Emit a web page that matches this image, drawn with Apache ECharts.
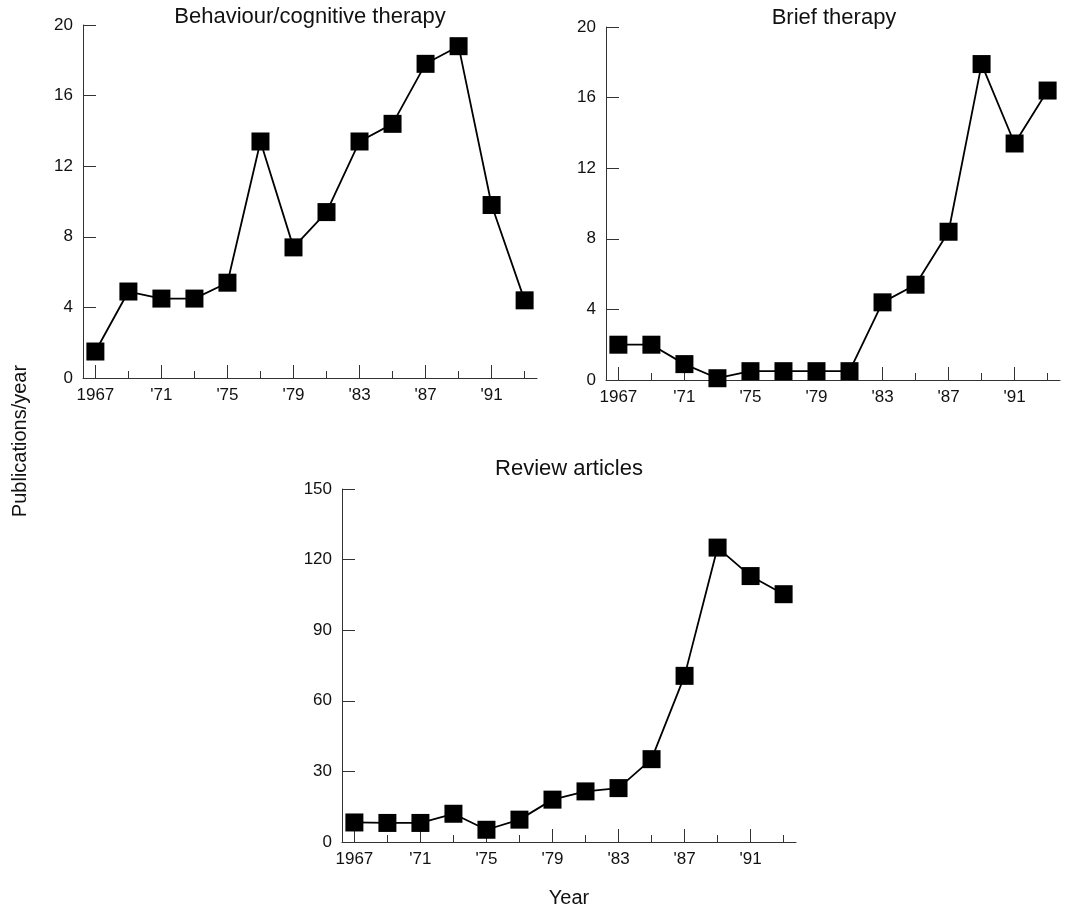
<!DOCTYPE html>
<html>
<head>
<meta charset="utf-8">
<script src="https://cdn.jsdelivr.net/npm/echarts@6/dist/echarts.min.js"></script>
<style>
html,body{margin:0;padding:0;background:#fff;}
#c{width:1070px;height:913px;}
</style>
</head>
<body>
<div id="c"></div>
<script>
// ---- data ----
const years = [1967,1969,1971,1973,1975,1977,1979,1981,1983,1985,1987,1989,1991,1993];
const behaviourValues = [1.5,4.9,4.5,4.5,5.4,13.4,7.4,9.4,13.4,14.4,17.8,18.8,9.8,4.4];
const briefValues = [2.0,2.0,0.9,0.1,0.5,0.5,0.5,0.5,4.4,5.4,8.4,17.9,13.4,16.4];
const reviewValues = [8.3,8.1,8.1,12.0,5.2,9.5,18.0,21.5,22.9,35.2,70.6,125.1,113.0,105.3];
const majorTickYears = [1967,1971,1975,1979,1983,1987,1991];
const minorTickYears = [1969,1973,1977,1981,1985,1989,1993];
const panelTitles = ['Behaviour/cognitive therapy','Brief therapy','Review articles'];
const yAxisName = 'Publications/year';
const xAxisName = 'Year';

const FONT = '"Liberation Sans", Arial, sans-serif';
const AX = '#333';
const grids = [
  {left:83, top:25, width:454, height:353},
  {left:606, top:27, width:454, height:353},
  {left:342, top:489, width:454, height:353}
];
const yMax = [20,20,150], yInt = [4,4,30];
const seriesData = [behaviourValues, briefValues, reviewValues];

function yearLabel(v){ return v === 1967 ? '1967' : "'" + String(v).slice(2); }

const xAxes = [], yAxes = [], series = [];
grids.forEach((g,i)=>{
  xAxes.push({
    type:'value', gridIndex:i, min:1966.25, max:1993.75,
    axisLine:{show:true, onZero:false, lineStyle:{color:AX, width:1}},
    axisTick:{show:true, inside:true, length:13, customValues:majorTickYears, lineStyle:{color:AX, width:1}},
    axisLabel:{show:true, customValues:majorTickYears, formatter:yearLabel, color:'#111', fontSize:17, fontFamily:FONT, margin:9},
    splitLine:{show:false}
  });
  xAxes.push({
    type:'value', gridIndex:i, min:1966.25, max:1993.75, position:'bottom',
    axisLine:{show:false},
    axisTick:{show:true, inside:true, length:7, customValues:minorTickYears, lineStyle:{color:AX, width:1}},
    axisLabel:{show:false},
    splitLine:{show:false}
  });
  yAxes.push({
    type:'value', gridIndex:i, min:0, max:yMax[i], interval:yInt[i],
    axisLine:{show:true, onZero:false, lineStyle:{color:AX, width:1}},
    axisTick:{show:true, inside:true, length:13, lineStyle:{color:AX, width:1}},
    axisLabel:{color:'#111', fontSize:17, fontFamily:FONT, margin:10},
    splitLine:{show:false}
  });
  series.push({
    type:'line', xAxisIndex:i*2, yAxisIndex:i,
    data: years.map((y,k)=>[y, seriesData[i][k]]),
    symbol:'rect', symbolSize:18, showSymbol:true,
    itemStyle:{color:'#000'},
    lineStyle:{color:'#000', width:1.8},
    z:3
  });
});

const titleStyle = {fontSize:22, fontFamily:FONT, fill:'#111', textAlign:'center', textVerticalAlign:'middle'};
const chart = echarts.init(document.getElementById('c'), null, {renderer:'canvas'});
chart.setOption({
  animation:false,
  backgroundColor:'#fff',
  grid: grids,
  xAxis: xAxes,
  yAxis: yAxes,
  series: series,
  graphic:[
    {type:'text', x:310, y:17, style:Object.assign({text:panelTitles[0]}, titleStyle)},
    {type:'text', x:834, y:18, style:Object.assign({text:panelTitles[1]}, titleStyle)},
    {type:'text', x:569, y:469, style:Object.assign({text:panelTitles[2]}, titleStyle)},
    {type:'text', x:20, y:441, rotation:Math.PI/2, style:{text:yAxisName, fontSize:20, fontFamily:FONT, fill:'#111', textAlign:'center', textVerticalAlign:'middle'}},
    {type:'text', x:569, y:898, style:{text:xAxisName, fontSize:20, fontFamily:FONT, fill:'#111', textAlign:'center', textVerticalAlign:'middle'}}
  ]
});
</script>
</body>
</html>
